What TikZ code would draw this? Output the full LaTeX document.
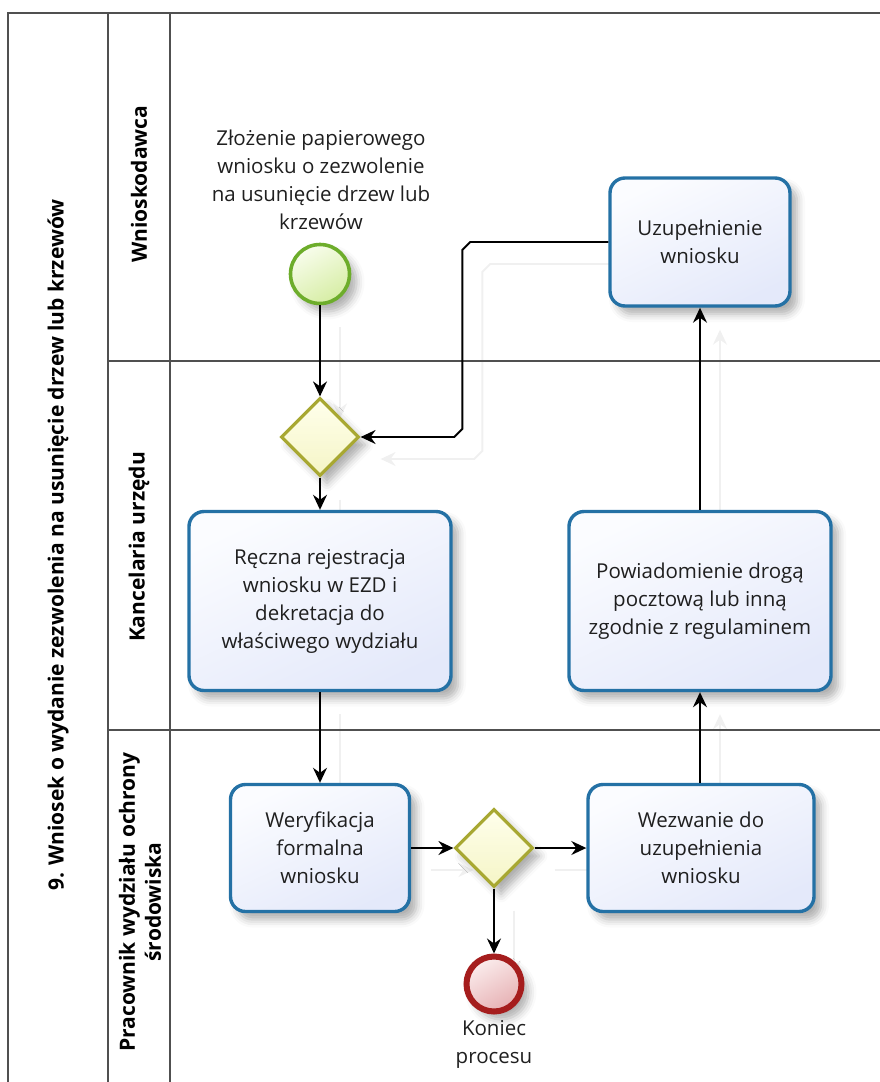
\documentclass[tikz,border=0pt]{standalone}
\usepackage{fontspec}
\setmainfont{Open Sans}
\newfontfamily\labelfont{Open Sans}
\usetikzlibrary{arrows.meta,shapes.geometric,shadows.blur,calc}
\pgfdeclarelayer{ghost}
\pgfsetlayers{ghost,main}

\definecolor{frameline}{HTML}{505050}
\definecolor{taskblue}{HTML}{2471A5}
\definecolor{taskfilltop}{HTML}{FBFCFF}
\definecolor{taskfillbot}{HTML}{E4E9FA}
\definecolor{gateborder}{HTML}{A8A832}
\definecolor{gatefilltop}{HTML}{FFFFEC}
\definecolor{gatefillbot}{HTML}{F5F5C6}
\definecolor{startgreen}{HTML}{6DAD2B}
\definecolor{startfilltop}{HTML}{F8FDEC}
\definecolor{startfillbot}{HTML}{D6EDA4}
\definecolor{endred}{HTML}{A51D1D}
\definecolor{endfilltop}{HTML}{FBEDED}
\definecolor{endfillbot}{HTML}{E6B0B3}

\begin{document}
\begin{tikzpicture}[x=1pt,y=-1pt,
  body/.style={font=\fontsize{20.5}{28}\selectfont, text=black!88, align=center},
  lanetext/.style={font=\labelfont\bfseries\fontsize{21}{26}\selectfont, rotate=90, align=center, inner sep=0pt},
  softshadow/.style={blur shadow={shadow xshift=7pt, shadow yshift=-8pt, shadow blur radius=8pt, shadow opacity=32}},
  task/.style={draw=taskblue, line width=3.4pt, rounded corners=15pt,
    top color=taskfilltop, bottom color=taskfillbot, shading angle=25,
    softshadow, body, inner sep=0pt},
  gate/.style={diamond, draw=gateborder, line width=3.2pt,
    top color=gatefilltop, bottom color=gatefillbot,
    minimum width=78, minimum height=78, inner sep=0pt, softshadow},
  startev/.style={circle, draw=startgreen, line width=3.6pt,
    top color=startfilltop, bottom color=startfillbot, shading angle=30,
    minimum size=59, inner sep=0pt, softshadow},
  endev/.style={circle, draw=endred, line width=6pt,
    top color=endfilltop, bottom color=endfillbot, shading angle=30,
    minimum size=55, inner sep=0pt, softshadow},
  flow/.style={line width=1.9pt, draw=black, -{Stealth[length=15pt,width=14pt,inset=5pt]}},
  ghostflow/.style={flow, draw=black!6, transform canvas={xshift=20pt,yshift=-22pt}},
  frame/.style={draw=frameline, line width=2pt},
]
\useasboundingbox (0,0) rectangle (880,1082);

% pool and lanes
\draw[frame] (8,1082) -- (8,13) -- (880,13);
\draw[frame] (108,13) -- (108,1082);
\draw[frame] (170,13) -- (170,1082);
\draw[frame] (108,361) -- (880,361);
\draw[frame] (108,730) -- (880,730);

\node[lanetext] (pooltitle) at (58,545) {9. Wniosek o wydanie zezwolenia na usunięcie drzew lub krzewów};
\node[lanetext] (lane1) at (139,184) {Wnioskodawca};
\node[lanetext] (lane2) at (139,547) {Kancelaria urzędu};
\node[lanetext] (lane3) at (140,902) {Pracownik wydziału ochrony\\środowiska};

% flow objects
\node[startev] (start) at (320,274) {};
\node[body] (startlbl) at (321,180) {Złożenie papierowego\\wniosku  o zezwolenie\\na usunięcie drzew lub\\krzewów};
\node[gate] (g1) at (320,437) {};
\node[task, minimum width=262, minimum height=179] (reg) at (320,601)
  {Ręczna rejestracja\\wniosku w EZD i\\dekretacja do\\właściwego wydziału};
\node[task, minimum width=180, minimum height=128] (uzu) at (700,242)
  {Uzupełnienie\\wniosku};
\node[task, minimum width=262, minimum height=179] (pow) at (700,601)
  {Powiadomienie drogą\\pocztową lub inną\\zgodnie z regulaminem};
\node[task, minimum width=179, minimum height=127] (ver) at (320,848)
  {Weryfikacja\\formalna\\wniosku};
\node[gate] (g2) at (494,848) {};
\node[task, minimum width=226, minimum height=127] (wez) at (701,848)
  {Wezwanie do\\uzupełnienia\\wniosku};
\node[endev] (end) at (494,984) {};
\node[body] (endlbl) at (494,1044) {Koniec\\procesu};

% bend points of the return flow
\path (uzu.west) ++(-146,0) coordinate (loopA);
\coordinate (loopB) at (loopA |- g1.east);

% sequence flows
\draw[flow] (start.south) -- (g1.north);
\draw[flow] (g1.south) -- (reg.north);
\draw[flow] (reg.south) -- (reg.south |- ver.north);
\draw[flow] (ver.east) -- (g2.west);
\draw[flow] (g2.east) -- (wez.west);
\draw[flow] (g2.south) -- (end.north);
\draw[flow] (pow.south |- wez.north) -- (pow.south);
\draw[flow] (pow.north) -- (uzu.south);
\draw[flow] (uzu.west) -- ($(loopA)+(8,0)$) -- ($(loopA)+(0,8)$)
  -- ($(loopB)+(0,-8)$) -- ($(loopB)+(-8,0)$) -- (g1.east);

% faint shadows of the flows
\begin{pgfonlayer}{ghost}
\draw[ghostflow] (start.south) -- (g1.north);
\draw[ghostflow] (g1.south) -- (reg.north);
\draw[ghostflow] (reg.south) -- (reg.south |- ver.north);
\draw[ghostflow] (ver.east) -- (g2.west);
\draw[ghostflow] (g2.east) -- (wez.west);
\draw[ghostflow] (g2.south) -- (end.north);
\draw[ghostflow] (pow.south |- wez.north) -- (pow.south);
\draw[ghostflow] (pow.north) -- (uzu.south);
\draw[ghostflow] (uzu.west) -- ($(loopA)+(8,0)$) -- ($(loopA)+(0,8)$)
  -- ($(loopB)+(0,-8)$) -- ($(loopB)+(-8,0)$) -- (g1.east);
\end{pgfonlayer}
\end{tikzpicture}
\end{document}
